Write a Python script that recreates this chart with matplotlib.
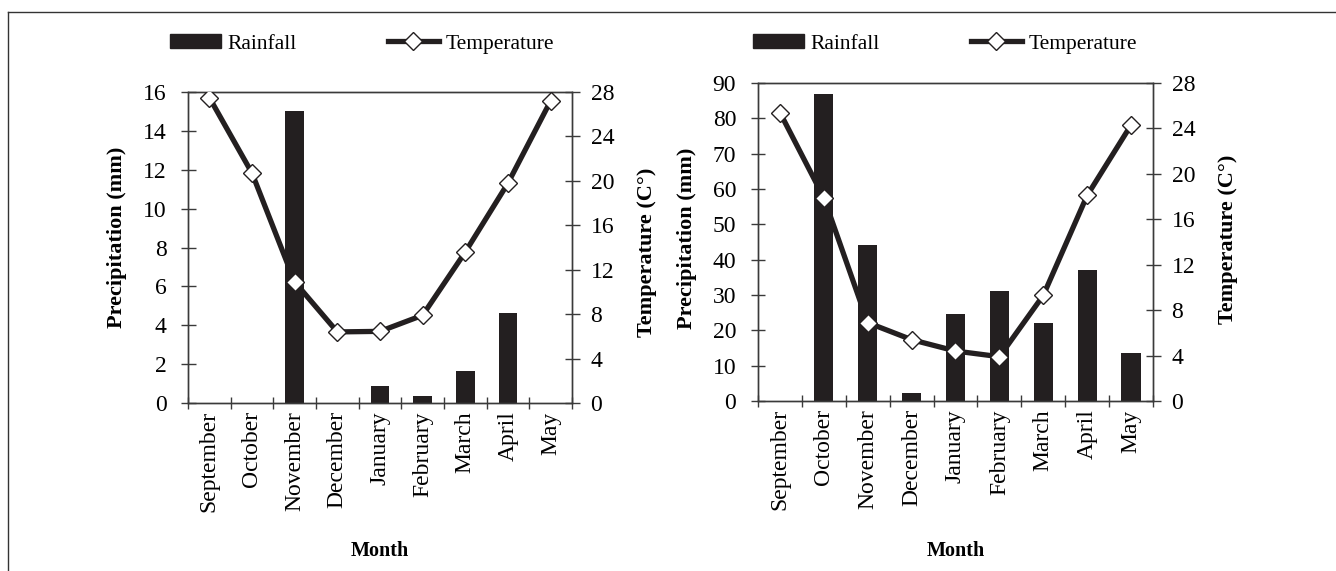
import matplotlib
matplotlib.use("Agg")
import matplotlib.pyplot as plt
import matplotlib.transforms as mtransforms
from matplotlib.lines import Line2D
from matplotlib.patches import Patch
import numpy as np

plt.rcParams['font.family'] = ['Liberation Serif', 'DejaVu Serif']

months = ["September", "October", "November", "December", "January",
          "February", "March", "April", "May"]

rain_a = [0, 0, 15.0, 0, 0.9, 0.35, 1.65, 4.65, 0]
temp_a = [27.5, 20.7, 10.9, 6.4, 6.45, 7.9, 13.6, 19.8, 27.2]

rain_b = [0, 87.0, 44.1, 2.3, 24.6, 31.2, 22.1, 37.1, 13.5]
temp_b = [25.4, 17.9, 6.9, 5.4, 4.4, 3.9, 9.3, 18.1, 24.3]

W, H = 1336, 571
fig = plt.figure(figsize=(W / 100, H / 100), dpi=100)

DARK = "#231f20"
SPINE = "#3a3a3a"
TICK_FS = 17
LAB_FS = 16
LEG_FS = 15.5


def px_axes(x0, x1, ytop, ybot):
    return fig.add_axes([x0 / W, (H - ybot) / H, (x1 - x0) / W, (ybot - ytop) / H])


def draw(ax, rain, temp, ymax, ystep, bar_w, legend_center, ylab, y2lab,
         left_len, left_pad):
    x = np.arange(len(months))
    ax.bar(x, rain, width=bar_w, color=DARK, zorder=2)
    ax.set_xlim(-0.5, len(months) - 0.5)
    ax.set_ylim(0, ymax)
    ax.set_yticks(np.arange(0, ymax + 1, ystep))
    ax.set_xticks(x)
    ax.set_xticklabels(months, rotation=90, fontsize=TICK_FS)
    ax.set_xticks(np.arange(-0.5, len(months) - 0.4, 1), minor=True)
    ax.tick_params(axis='x', which='major', length=0, pad=6)
    ax.tick_params(axis='x', which='minor', direction='inout', length=8.6, width=1, color=SPINE)
    ax.tick_params(axis='y', direction='inout', length=left_len, width=1, color=SPINE,
                   labelsize=TICK_FS, pad=left_pad)
    for s in ax.spines.values():
        s.set_color(SPINE)
        s.set_linewidth(1)
    ax.set_ylabel("Precipitation (mm)", fontsize=LAB_FS, fontweight='bold')
    ax.yaxis.set_label_coords(ylab[0], ylab[1], transform=mtransforms.blended_transform_factory(
        fig.transFigure, ax.transAxes))
    ax.set_xlabel("Month", fontsize=14.5, fontweight='bold')
    ax.xaxis.set_label_coords(0.5, (H - 551) / H, transform=mtransforms.blended_transform_factory(
        ax.transAxes, fig.transFigure))
    ax.xaxis.label.set_verticalalignment('center')

    ax2 = ax.twinx()
    ax2.plot(x, temp, color=DARK, linewidth=3.8, marker='D', markersize=9.5,
             markerfacecolor='white', markeredgecolor=DARK, markeredgewidth=1.0, zorder=3)
    ax2.set_ylim(0, 28)
    ax2.set_yticks(np.arange(0, 29, 4))
    ax2.tick_params(axis='y', direction='inout', length=10.8, width=1, color=SPINE,
                    labelsize=TICK_FS, pad=8)
    for s in ax2.spines.values():
        s.set_color(SPINE)
        s.set_linewidth(1)
    ax2.set_ylabel("Temperature (C°)", fontsize=LAB_FS, fontweight='bold')
    ax2.yaxis.set_label_coords(y2lab[0], y2lab[1], transform=mtransforms.blended_transform_factory(
        fig.transFigure, ax2.transAxes))

    handles = [Patch(facecolor=DARK, edgecolor=DARK),
               Line2D([0], [0], color=DARK, linewidth=3.8, marker='D', markersize=9.5,
                      markerfacecolor='white', markeredgecolor=DARK, markeredgewidth=1.0)]
    ax.legend(handles, ["Rainfall", "Temperature"], ncol=2, loc='center',
              bbox_to_anchor=(legend_center / W, (H - 44) / H), bbox_transform=fig.transFigure,
              frameon=False, fontsize=LEG_FS, handlelength=2.4, handleheight=0.6,
              handletextpad=0.3, columnspacing=4.2, borderaxespad=0, borderpad=0)
    return ax2


axL = px_axes(188, 572, 92, 403)
draw(axL, rain_a, temp_a, 16, 2, 0.445, 362, (127 / W, 0.534), (637 / W, 0.486), 10.8, 10)

axR = px_axes(758, 1153, 83, 401)
draw(axR, rain_b, temp_b, 90, 10, 0.44, 945, (697 / W, 0.513), (1218 / W, 0.509), 9.4, 11)

# outer frame lines
fig.add_artist(Line2D([8 / W, 1.0], [(H - 12) / H, (H - 12) / H], color="#333333", linewidth=1,
                      transform=fig.transFigure))
fig.add_artist(Line2D([8 / W, 8 / W], [0, (H - 12) / H], color="#333333", linewidth=1,
                      transform=fig.transFigure))

fig.savefig("out.png", dpi=100)
